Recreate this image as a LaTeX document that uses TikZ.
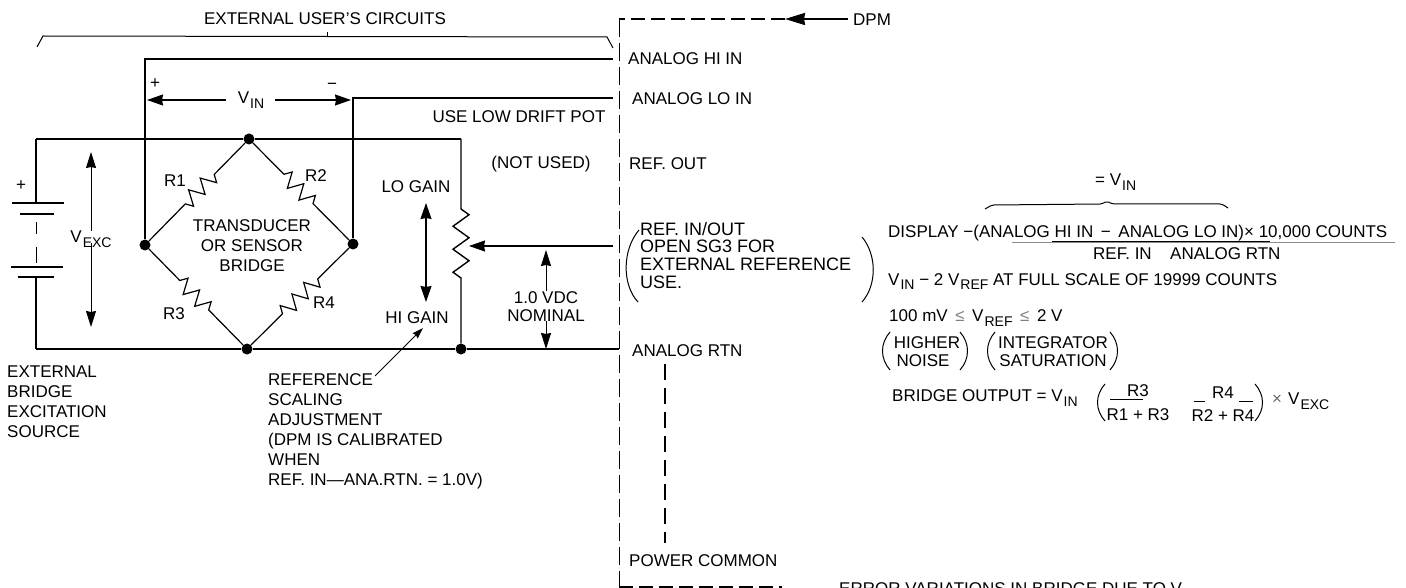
\documentclass[tikz,border=0pt]{standalone}
\usepackage{fontspec}
\setmainfont{Liberation Sans}
\usetikzlibrary{arrows.meta,decorations.pathmorphing}

\newcommand{\vsub}[1]{V\kern1pt\raisebox{-5pt}{\fontsize{14}{14}\selectfont #1}}

\tikzset{
  wire/.style={line width=1.6pt},
  thinwire/.style={line width=1pt},
  dot/.style={circle,fill=black,inner sep=0pt,minimum size=11pt},
  lbl/.style={anchor=west,inner sep=0pt,font=\fontsize{17}{20}\selectfont,text height=12pt,text depth=0pt},
  mid/.style={lbl,anchor=center},
  block/.style={anchor=north west,inner sep=0pt,align=left,font=\fontsize{17}{20}\selectfont},
  bigarrow/.style={line width=1.2pt,{Stealth[length=16pt,width=11pt,inset=1pt]}-{Stealth[length=16pt,width=11pt,inset=1pt]}},
  halfarrow/.style={line width=1.2pt,-{Stealth[length=16pt,width=11pt,inset=1pt]}},
  resistor/.style={line width=1.2pt,decorate,decoration={zigzag,segment length=16.5pt,amplitude=7.5pt,pre length=44pt,post length=44pt}},
  potres/.style={line width=1.4pt,decorate,decoration={zigzag,segment length=23pt,amplitude=8pt,pre length=70pt,post length=58pt}},
  boxdash/.style={line width=1.8pt,dash pattern=on 14pt off 6pt},
  sidedash/.style={line width=.8pt,dash pattern=on 18pt off 6pt},
  busdash/.style={line width=2.2pt,dash pattern=on 16pt off 8pt}
}

\begin{document}
\begin{tikzpicture}[x=1pt,y=-1pt]
\clip (0,0) rectangle (1406,588);

% bridge
\node[dot] (top) at (249,139) {};
\node[dot] (left) at (145,245) {};
\node[dot] (right) at (353,244) {};
\node[dot] (bottom) at (247,349) {};
\node[dot] (potend) at (461,349) {};
\draw[resistor] (top) -- (left);
\draw[resistor] (top) -- (right);
\draw[resistor] (left) -- (bottom);
\draw[resistor] (right) -- (bottom);

% wires to the dpm
\coordinate (hi) at (613,59);
\coordinate (lo) at (613,98);
\coordinate (rtn) at (619,349);
\coordinate (wiper) at (613,246);
\coordinate (pottop) at (461,139);
\coordinate (pottap) at (469,246);
\coordinate (batt) at (36,139);
\coordinate (batb) at (36,349);
\draw[wire] (left) -- (left|-hi) -- (hi);
\draw[wire] (right) -- (right|-lo) -- (lo);
\draw[wire] (batt) -- (top) -- (pottop);
\draw[wire] (batb) -- (bottom) -- (potend) -- (rtn);
\draw[potres] (pottop) -- (potend);
\draw[halfarrow] (wiper) -- (pottap);

% battery
\coordinate (plate1) at (36,203);
\coordinate (plate2) at (36,214);
\coordinate (plate3) at (36,267);
\coordinate (plate4) at (36,277);
\draw[wire] (batt) -- (plate1);
\draw[wire] (plate4) -- (batb);
\draw[wire] (12,203) -- (64,203);
\draw[wire] (20,214) -- (54,214);
\draw[wire] (11,267) -- (63,267);
\draw[wire] (18,277) -- (54,277);
\draw[thinwire] (36,222) -- (36,234) (36,247) -- (36,263);
\node[mid] (plus) at (21,185) {+};

% arrows
\node[mid] (vexc) at (91,237) {\vsub{EXC}};
\coordinate (vexct) at (91,152);
\coordinate (vexcb) at (91,327);
\draw[line width=1pt,-{Stealth[length=16pt,width=10pt,inset=1pt]}] (vexc) -- (vexct);
\draw[line width=1pt,-{Stealth[length=16pt,width=10pt,inset=1pt]}] (vexc) -- (vexcb);
\node[mid] (vin) at (251,98) {\vsub{IN}};
\coordinate (vinl) at (147,100);
\coordinate (vinr) at (351,100);
\draw[halfarrow] (226,100) -- (vinl);
\draw[halfarrow] (275,100) -- (vinr);
\node[mid] (inplus) at (155,83) {+};
\node[mid] (inminus) at (332,84) {−};
\coordinate (gainup) at (426,203);
\coordinate (gaindn) at (426,302);
\draw[bigarrow] (gainup) -- (gaindn);
\node[mid] (vdc) at (546,297) {1.0 VDC};
\node[mid] (nominal) at (546,315) {NOMINAL};
\coordinate (nomup) at (546,250);
\coordinate (nomdn) at (546,349);
\draw[line width=1pt,-{Stealth[length=16pt,width=10pt,inset=1pt]}] (vdc) -- (nomup);
\draw[line width=1pt,-{Stealth[length=16pt,width=10pt,inset=1pt]}] (nominal) -- (nomdn);

% dpm outline
\coordinate (dpmtl) at (619,19);
\coordinate (dpmtr) at (785,19);
\coordinate (dpmbl) at (619,587);
\coordinate (dpmbr) at (782,587);
\draw[boxdash] (dpmtr) -- (dpmtl);
\draw[sidedash] (dpmtl) -- (dpmbl);
\draw[boxdash] (dpmbl) -- (dpmbr);
\node[lbl] (dpm) at (853,20) {DPM};
\draw[line width=2pt,-{Stealth[length=20pt,width=12pt,inset=1pt]}] (dpm.west) ++(-5,-1) -- (dpmtr);
\coordinate (busa) at (665,364);
\coordinate (busb) at (665,543);
\draw[busdash] (busa) -- (busb);

% brace over the user's circuits
\draw[thinwire] (37,47) -- (43,36) -- (607,37) -- (613,48);
\draw[thinwire] (327,37) -- (327,32);
\node[mid] (user) at (325,19) {EXTERNAL USER'S CIRCUITS};

% labels on the circuit
\foreach \n/\x/\y in {R1/175/181,R2/316/176,R3/174/313,R4/324/302}{
\node[mid] (\n) at (\x,\y) {\n};
}
\node[mid,align=center,text height=,text depth=] (bridge) at (252,246) {TRANSDUCER\\OR SENSOR\\BRIDGE};
\node[mid] (lowdrift) at (519,117) {USE LOW DRIFT POT};
\node[mid] (notused) at (541,163) {(NOT USED)};
\node[mid] (logain) at (416,187) {LO GAIN};
\node[mid] (higain) at (417,317) {HI GAIN};
\node[block] (source) at (7,366) {EXTERNAL\\BRIDGE\\EXCITATION\\SOURCE};
\node[block] (scaling) at (268,373) {REFERENCE\\SCALING\\ADJUSTMENT\\(DPM IS CALIBRATED\\WHEN\\REF. IN—ANA.RTN. = 1.0V)};
\coordinate (scaletip) at (423,328);
\draw[line width=.9pt,-{Stealth[length=11pt,width=7pt,inset=1pt]}] (375,376) -- (scaletip);

% pin names
\node[lbl] (pinhi) at (628,59) {ANALOG HI IN};
\node[lbl] (pinlo) at (632,99) {ANALOG LO IN};
\node[lbl] (pinout) at (629,164) {REF. OUT};
\node[block,font=\fontsize{18}{17.6}\selectfont] (pinin) at (640,222) {REF. IN/OUT\\OPEN SG3 FOR\\EXTERNAL REFERENCE\\USE.};
\node[lbl] (pinrtn) at (632,350) {ANALOG RTN};
\node[lbl] (pincom) at (629,560) {POWER COMMON};
\draw[thinwire] (639,230) .. controls (622,250) and (622,285) .. (638,302);
\draw[thinwire] (862,237) .. controls (877,255) and (877,285) .. (862,302);

% formulas
\node[lbl] (eqvin) at (1095,180) {= \vsub{IN}};
\draw[thinwire,rounded corners=2pt] (985,209) -- (992,205) -- (1102,204) -- (1107,201) -- (1112,204) -- (1222,204) -- (1228,208);
\node[lbl] (display) at (888,232) {DISPLAY −(ANALOG HI IN $\,$−$\,$ ANALOG LO IN)× 10,000 COUNTS};
\draw[line width=.8pt,black!45] (1012,242) -- (1395,242);
\draw[thinwire] (1052,242) -- (1270,242);
\node[lbl] (refin) at (1093,253) {REF. IN};
\node[lbl] (anartn) at (1170,253) {ANALOG RTN};
\node[lbl] (fullscale) at (888,279) {\vsub{IN} − 2 \vsub{REF} AT FULL SCALE OF 19999 COUNTS};
\node[lbl] (range) at (889,315) {100 mV\, \textcolor{black!50}{≤}\, \vsub{REF}\, \textcolor{black!50}{≤}\, 2 V};
\node[mid] (higher) at (927,342) {HIGHER};
\node[mid] (noise) at (923,360) {NOISE};
\node[mid] (integ) at (1053,342) {INTEGRATOR};
\node[mid] (satur) at (1053,360) {SATURATION};
\foreach \x/\y/\s/\h in {890/332/1/38,960/332/-1/38,995/332/1/38,1110/332/-1/38,1105/384/1/37,1255/384/-1/37}{
\draw[thinwire] (\x,\y) .. controls (\x-10*\s,\y+.3*\h) and (\x-10*\s,\y+.7*\h) .. (\x,\y+\h);
}
\node[lbl] (output) at (892,395) {BRIDGE OUTPUT = \vsub{IN}};
\node[mid] (rthree) at (1138,390) {R3};
\node[mid] (rfour) at (1223,392) {R4};
\node[mid] (sumone) at (1138,414) {R1 + R3};
\node[mid] (sumtwo) at (1223,415) {R2 + R4};
\draw[thinwire] (1110,399) -- (1143,399);
\draw[thinwire] (1194,401) -- (1205,401) (1239,401) -- (1253,401);
\node[mid,black!60] (times) at (1277,398) {×};
\node[lbl] (exc) at (1288,398) {\vsub{EXC}};
\node[lbl] (error) at (839,588) {ERROR VARIATIONS IN BRIDGE DUE TO \vsub{EXC}};
\end{tikzpicture}
\end{document}
